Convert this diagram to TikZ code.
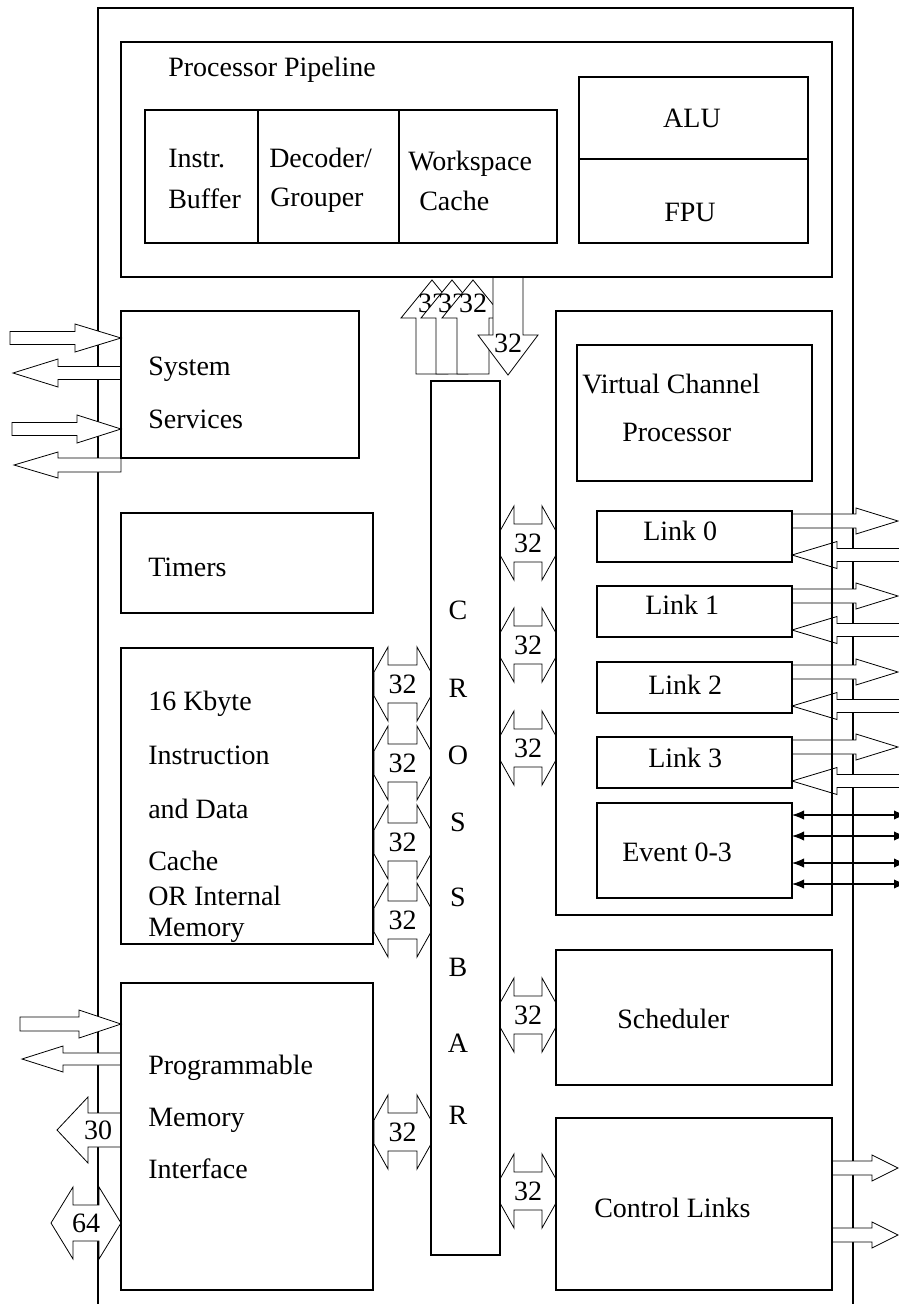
\documentclass[tikz,border=0pt]{standalone}
\usepackage{fontspec}
\setmainfont{Liberation Serif}
\usetikzlibrary{arrows.meta}

% horizontal block arrow: tail x, tip x, centre y, body half, head half, head base x
\newcommand{\hblock}[6]{%
  \filldraw[blockarrow] (#1,#3-#4) -- (#6,#3-#4) -- (#6,#3-#5) -- (#2,#3)
    -- (#6,#3+#5) -- (#6,#3+#4) -- (#1,#3+#4) -- cycle;}
% vertical block arrow: tail y, tip y, centre x, body half, head half, head base y
\newcommand{\vblock}[6]{%
  \filldraw[blockarrow] (#3-#4,#1) -- (#3-#4,#6) -- (#3-#5,#6) -- (#3,#2)
    -- (#3+#5,#6) -- (#3+#4,#6) -- (#3+#4,#1) -- cycle;}
% double block arrow: left tip x, right tip x, centre y, body half, head half, head length, tip half
\newcommand{\dblock}[7]{%
  \filldraw[blockarrow] (#1,#3-#7) -- (#1+#6,#3-#5) -- (#1+#6,#3-#4) -- (#2-#6,#3-#4)
    -- (#2-#6,#3-#5) -- (#2,#3-#7) -- (#2,#3+#7) -- (#2-#6,#3+#5) -- (#2-#6,#3+#4)
    -- (#1+#6,#3+#4) -- (#1+#6,#3+#5) -- (#1,#3+#7) -- cycle;}

\begin{document}
\begin{tikzpicture}[x=0.75pt, y=-0.75pt,
    every node/.style={font=\fontsize{21}{24}\selectfont, inner sep=0pt},
    chip/.style={line width=1.7pt},
    unit/.style={line width=0.9pt},
    blockarrow/.style={fill=white, draw=black, line width=0.6pt},
    boxtext/.style={anchor=base west},
    buslabel/.style={anchor=center},
    xbar/.style={anchor=center},
    eventline/.style={line width=0.8pt, {Latex[length=9pt,width=7pt]}-{Latex[length=9pt,width=7pt]}}]
  \useasboundingbox (0,0) rectangle (899,1304);

  % chip outline
  \draw[chip] (98,1310) -- (98,8) -- (853,8) -- (853,1310);

  % buses between pipeline and crossbar
  \vblock{374}{280}{432}{16}{31}{318}
  \node[buslabel] (up0) at (432,303) {32};
  \vblock{374}{280}{452}{16}{31}{318}
  \node[buslabel] (up1) at (452,303) {32};
  \vblock{374}{280}{473}{16}{31}{318}
  \node[buslabel] (up2) at (473,303) {32};
  \vblock{277}{375}{508}{15}{30}{335}
  \node[buslabel] (down0) at (508,343) {32};

  % system services pins
  \hblock{10}{121}{338}{6.5}{14}{75}
  \hblock{121}{13}{373}{6.5}{14}{58}
  \hblock{12}{121}{429}{6.5}{14}{77}
  \hblock{121}{14}{465}{7}{13}{58}

  % memory interface pins
  \hblock{20}{121}{1024}{7}{14}{79}
  \hblock{121}{22}{1059}{6}{13}{63}
  \hblock{121}{57}{1130}{17}{33}{88}
  \node[buslabel] (addr) at (98,1130) {30};
  \dblock{51}{121}{1223}{18}{36}{22}{0}
  \node[buslabel] (data) at (86,1223) {64};

  % crossbar buses, left side
  \foreach \yc [count=\i] in {684,763,842,920,1132} {
    \dblock{374}{431}{\yc}{19}{37}{14}{12}
    \node[buslabel] (lbus\i) at (402.5,\yc) {32};
  }
  % crossbar buses, right side
  \foreach \yc [count=\i] in {543,645,748,1015,1191} {
    \dblock{500}{556}{\yc}{19}{37}{14}{12}
    \node[buslabel] (rbus\i) at (528,\yc) {32};
  }

  % link pins
  \foreach \ytop in {511,586,662,737} {
    \hblock{792}{898}{\ytop+10}{7}{13}{856}
    \hblock{905}{792}{\ytop+44}{6.5}{13.5}{837}
  }
  % control link pins
  \hblock{832}{898}{1168}{7}{13}{872}
  \hblock{832}{898}{1235}{7}{13}{872}

  % event pins
  \foreach \ye in {815,836,863,884}
    \draw[eventline] (792,\ye) -- (906,\ye);

  % units
  \draw[unit] (121,42) rectangle (832,277);
  \draw[unit] (145,110) rectangle (557,243);
  \draw[unit] (258,110) -- (258,243);
  \draw[unit] (399,110) -- (399,243);
  \draw[unit] (579,77) rectangle (808,243);
  \draw[unit] (579,159) -- (808,159);
  \draw[unit] (121,311) rectangle (359,458);
  \draw[unit] (121,513) rectangle (373,613);
  \draw[unit] (121,648) rectangle (373,944);
  \draw[unit] (121,983) rectangle (373,1290);
  \draw[unit] (431,381) rectangle (500,1255);
  \draw[unit] (556,311) rectangle (832,915);
  \draw[unit] (577,345) rectangle (812,481);
  \foreach \ytop in {511,586,662,737}
    \draw[unit] (597,\ytop) rectangle (792,\ytop+51);
  \draw[unit] (597,803) rectangle (792,898);
  \draw[unit] (556,950) rectangle (832,1085);
  \draw[unit] (556,1118) rectangle (832,1290);

  % texts
  \node[boxtext] (pipe) at (168,76) {Processor Pipeline};
  \node[boxtext] (ibuf1) at (168,167) {Instr.};
  \node[boxtext] (ibuf2) at (168,208) {Buffer};
  \node[boxtext] (dec1) at (269,167) {Decoder/};
  \node[boxtext] (dec2) at (270,206) {Grouper};
  \node[boxtext] (wsc1) at (408,170) {Workspace};
  \node[boxtext] (wsc2) at (419,210) {Cache};
  \node (alu) at (692,118) {ALU};
  \node (fpu) at (690,212) {FPU};
  \node[boxtext] (sys1) at (148,375) {System};
  \node[boxtext] (sys2) at (148,428) {Services};
  \node[boxtext] (tim) at (148,576) {Timers};
  \node[boxtext] (mem1) at (148,710) {16 Kbyte};
  \node[boxtext] (mem2) at (148,764) {Instruction};
  \node[boxtext] (mem3) at (148,818) {and Data};
  \node[boxtext] (mem4) at (148,870) {Cache};
  \node[boxtext] (mem5) at (148,905) {OR Internal};
  \node[boxtext] (mem6) at (148,936) {Memory};
  \node[boxtext] (pmi1) at (148,1074) {Programmable};
  \node[boxtext] (pmi2) at (148,1126) {Memory};
  \node[boxtext] (pmi3) at (148,1178) {Interface};
  \foreach \ch/\yc [count=\i] in {C/610,R/688,O/755,S/822,S/897,B/967,A/1043,R/1115}
    \node[xbar] (xb\i) at (458,\yc) {\ch};
  \node[boxtext] (vcp1) at (582,393) {Virtual Channel};
  \node[boxtext] (vcp2) at (622,441) {Processor};
  \node[boxtext] (link0) at (643,540) {Link 0};
  \node[boxtext] (link1) at (645,614) {Link 1};
  \node[boxtext] (link2) at (648,694) {Link 2};
  \node[boxtext] (link3) at (648,767) {Link 3};
  \node[boxtext] (event) at (622,861) {Event 0-3};
  \node[boxtext] (sched) at (617,1028) {Scheduler};
  \node[boxtext] (ctrl) at (594,1217) {Control Links};
\end{tikzpicture}
\end{document}
